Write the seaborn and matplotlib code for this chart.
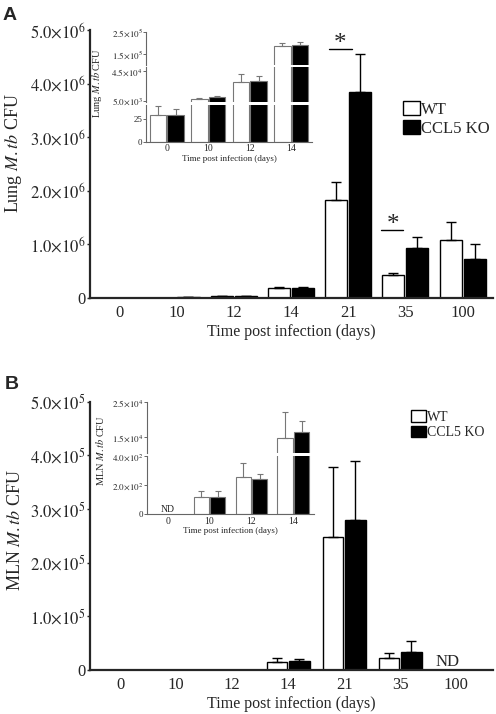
import numpy as np
import pandas as pd
import matplotlib
matplotlib.use("Agg")
import matplotlib.pyplot as plt
import seaborn as sns
from matplotlib.patches import Patch

# ---- data ----
days = ["0", "10", "12", "14", "21", "35", "100"]
inset_days = ["0", "10", "12", "14"]
groups = ["WT", "CCL5 KO"]

lung_wt = [29, 7.3e3, 2.98e4, 1.86e5, 1.83e6, 4.2e5, 1.08e6]
lung_wt_sem = [10, 0.9e3, 1.1e4, 1.4e4, 3.3e5, 0.5e5, 3.3e5]
lung_ko = [29, 9.6e3, 3.2e4, 1.91e5, 3.84e6, 9.3e5, 7.3e5]
lung_ko_sem = [7, 2.1e3, 0.6e4, 1.6e4, 7.1e5, 2.0e5, 2.7e5]

mln_wt = [np.nan, 115, 253, 1.47e4, 2.48e5, 2.3e4, np.nan]
mln_wt_sem = [np.nan, 45, 101, 0.74e4, 1.31e5, 0.9e4, np.nan]
mln_ko = [np.nan, 115, 243, 1.66e4, 2.8e5, 3.4e4, np.nan]
mln_ko_sem = [np.nan, 45, 31, 0.3e4, 1.09e5, 2.0e4, np.nan]

sns.set_style("ticks")
plt.rcParams["font.family"] = ["Liberation Serif", "DejaVu Serif"]
plt.rcParams["mathtext.fontset"] = "stix"

W, H = 496, 714


def box(l, r, t, b):
    return [l / W, 1 - b / H, (r - l) / W, (b - t) / H]


def make_df(wt, wt_sem, ko, ko_sem):
    df = pd.DataFrame({
        "day": days * 2,
        "group": ["WT"] * len(days) + ["CCL5 KO"] * len(days),
        "cfu": list(wt) + list(ko),
        "sem": list(wt_sem) + list(ko_sem),
    })
    return df.dropna()


def draw_bars(ax, df, order, width, gap, edge, lw, ecolor, cap):
    sub = df[df["day"].isin(order)]
    sns.barplot(data=sub, x="day", y="cfu", hue="group", order=order, hue_order=groups,
                palette={"WT": "white", "CCL5 KO": "black"}, width=width, gap=gap,
                edgecolor=edge, linewidth=lw, errorbar=None, legend=False, ax=ax)
    for _, r in sub.iterrows():
        off = -width / 4 if r["group"] == "WT" else width / 4
        x = order.index(r["day"]) + off
        ax.errorbar(x, r["cfu"], yerr=[[0], [r["sem"]]], fmt="none", ecolor=ecolor,
                    elinewidth=lw, capsize=cap, capthick=lw)
    ax.set_xlabel("")
    ax.set_ylabel("")


def sci(v):
    if v == 0:
        return "0"
    e = int(np.floor(np.log10(v)))
    return r"$%.1f{\times}10^{%d}$" % (v / 10 ** e, e)


def style_main(ax, ymax, ylabel, lab_y):
    ax.set_ylim(0, ymax)
    ticks = np.linspace(0, ymax, 6)
    ax.set_yticks(ticks)
    ax.set_yticklabels([sci(t) for t in ticks])
    ax.tick_params(axis="y", length=2, width=1, pad=1, labelsize=12)
    ax.tick_params(axis="x", length=0, pad=5, labelsize=12)
    sns.despine(ax=ax)
    for s in ["left", "bottom"]:
        ax.spines[s].set_linewidth(1.6)
    ax.set_xlabel("Time post infection (days)", fontsize=11.5, labelpad=2)
    ax.set_ylabel(ylabel, fontsize=13)
    ax.yaxis.set_label_coords(-0.165, lab_y)


def style_inset(axes, limits, tick_sets, ylabel, label_x, label_y):
    n = len(axes)
    for i, (ax, lim, tks) in enumerate(zip(axes, limits, tick_sets)):
        ax.set_facecolor("none")
        ax.set_xlim(-0.5, 3.5)
        ax.set_ylim(*lim)
        ax.set_yticks(tks)
        ax.set_yticklabels([("0" if t == 0 else (str(int(t)) if t < 100 else sci(t))) for t in tks])
        ax.tick_params(axis="y", length=2, width=0.7, pad=0.5, labelsize=6.5, color="#666666")
        for s in ["top", "right"]:
            ax.spines[s].set_visible(False)
        ax.spines["left"].set_color("#666666")
        ax.spines["left"].set_linewidth(0.8)
        if i < n - 1:
            ax.spines["bottom"].set_visible(False)
            ax.set_xticks([])
        else:
            ax.spines["bottom"].set_color("#666666")
            ax.spines["bottom"].set_linewidth(0.8)
            ax.tick_params(axis="x", length=0, pad=2, labelsize=7)
            ax.set_xlabel("Time post infection (days)", fontsize=6.5, labelpad=1)
    axes[0].set_ylabel(ylabel, fontsize=7.5)
    axes[0].yaxis.set_label_coords(label_x, label_y)


def add_legend(x, y, size, hl, hh):
    fig.legend(handles=[Patch(facecolor="white", edgecolor="black", lw=1, label="WT"),
                        Patch(facecolor="black", edgecolor="black", lw=1, label="CCL5 KO")],
               loc="upper left", bbox_to_anchor=(x / W, 1 - y / H), frameon=False,
               fontsize=size, handlelength=hl, handleheight=hh, handletextpad=0.1,
               labelspacing=0.15, borderpad=0, borderaxespad=0)


fig = plt.figure(figsize=(W / 100, H / 100), dpi=100)

lung = make_df(lung_wt, lung_wt_sem, lung_ko, lung_ko_sem)
mln = make_df(mln_wt, mln_wt_sem, mln_ko, mln_ko_sem)

# ---- panel A ----
axA = fig.add_axes(box(90, 493, 30, 298))
draw_bars(axA, lung, days, 0.84, 0.08, "black", 1.0, "black", 3.6)
axA.set_xlim(-0.51, 6.53)
style_main(axA, 5e6, r"Lung $\mathit{M.tb}$ CFU", 0.54)
# significance marks
axA.plot([3.66, 4.07], [4.64e6, 4.64e6], color="black", lw=1)
axA.text(3.85, 4.54e6, "*", ha="center", va="bottom", fontsize=18)
axA.plot([4.57, 4.96], [1.26e6, 1.26e6], color="black", lw=1)
axA.text(4.78, 1.16e6, "*", ha="center", va="bottom", fontsize=18)

insA = [fig.add_axes(box(146, 312, 32.3, 65)),
        fig.add_axes(box(146, 312, 67, 102)),
        fig.add_axes(box(146, 312, 105, 141.7))]
for ax in insA:
    draw_bars(ax, lung, inset_days, 0.85, 0.05, "#777777", 0.8, "#777777", 2.5)
style_inset(insA, [(1.0e5, 2.5e5), (3.2e3, 5.05e4), (0, 40)],
            [[1.5e5, 2.5e5], [5.0e3, 4.5e4], [0, 25]],
            r"Lung $\mathit{M.tb}$ CFU", -0.255, -0.55)

add_legend(403, 101, 12, 1.0, 0.9)

# ---- panel B ----
axB = fig.add_axes(box(90, 493, 401.7, 670))
draw_bars(axB, mln, days, 0.81, 0.1, "black", 1.0, "black", 3.6)
axB.set_xlim(-0.54, 6.66)
style_main(axB, 5e5, r"MLN $\mathit{M.tb}$ CFU", 0.52)
axB.text(5.85, 0, "ND", ha="center", va="bottom", fontsize=12)

insB = [fig.add_axes(box(146.7, 314.3, 402.3, 453)),
        fig.add_axes(box(146.7, 314.3, 456, 514))]
for ax in insB:
    draw_bars(ax, mln, inset_days, 0.8, 0.1, "#777777", 0.8, "#777777", 2.5)
style_inset(insB, [(1.05e4, 2.5e4), (0, 400)],
            [[1.5e4, 2.5e4], [0, 2.0e2, 4.0e2]],
            r"MLN $\mathit{M.tb}$ CFU", -0.24, 0.04)
insB[1].text(0, 0, "ND", ha="center", va="bottom", fontsize=7)

add_legend(411, 410, 10, 1.08, 0.9)

fig.text(3 / W, 1 - 7 / H, "A", ha="left", va="top", fontsize=14, fontweight="bold",
         family="Liberation Sans")
fig.text(5 / W, 1 - 376 / H, "B", ha="left", va="top", fontsize=14, fontweight="bold",
         family="Liberation Sans")

fig.savefig("out.png", dpi=100)
